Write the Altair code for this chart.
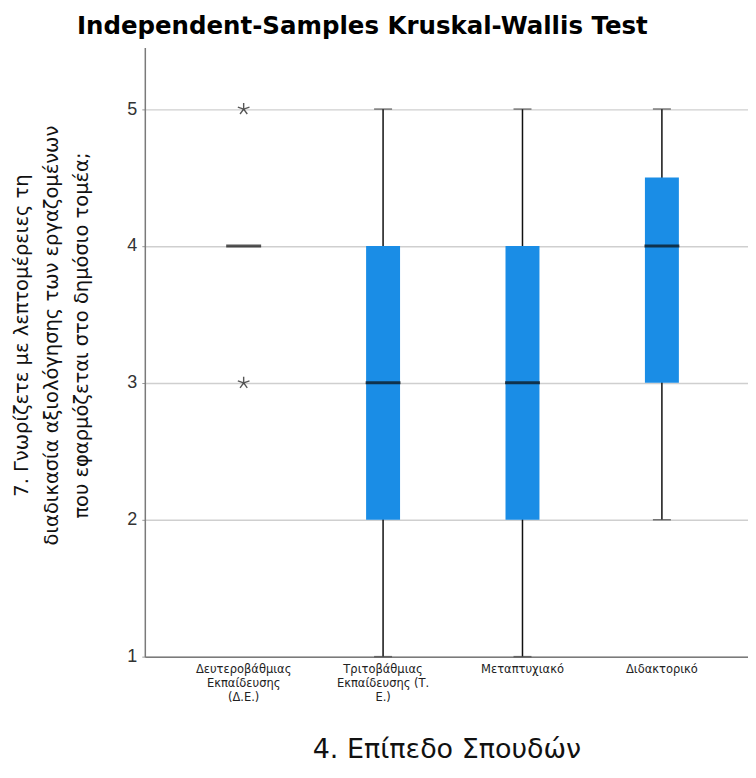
import altair as alt
import pandas as pd

# ---- data ----
categories = [
    "Δευτεροβάθμιας\nΕκπαίδευσης\n(Δ.Ε.)",
    "Τριτοβάθμιας\nΕκπαίδευσης (Τ.\nΕ.)",
    "Μεταπτυχιακό",
    "Διδακτορικό",
]
whisker_low = [None, 1, 1, 2]
q1 = [None, 2, 2, 3]
median = [4, 3, 3, 4]
q3 = [None, 4, 4, 4.5]
whisker_high = [None, 5, 5, 5]
outlier_cat = [categories[0], categories[0]]
outlier_val = [5, 3]

y_ticks = [1, 2, 3, 4, 5]
title_text = "Independent-Samples Kruskal-Wallis Test"
x_title = "4. Επίπεδο Σπουδών"
y_title = [
    "7. Γνωρίζετε με λεπτομέρειες τη",
    "διαδικασία αξιολόγησης των εργαζομένων",
    "που εφαρμόζεται στο δημόσιο τομέα;",
]

df = pd.DataFrame({
    "cat": categories,
    "lo": whisker_low,
    "q1": q1,
    "med": median,
    "q3": q3,
    "hi": whisker_high,
})
out_df = pd.DataFrame({"cat": outlier_cat, "val": outlier_val})

FONT = "Liberation Sans"
WIDE = "DejaVu Sans"
BLUE = "#1A8DE6"

x_scale = alt.Scale(domain=categories, paddingInner=0, paddingOuter=0.1633, align=0.64)
y_scale = alt.Scale(domain=[1, 5.45], nice=False, zero=False)

x_enc = alt.X(
    "cat:N",
    scale=x_scale,
    sort=categories,
    title=x_title,
    axis=alt.Axis(
        labelAngle=0,
        labelExpr="split(datum.label, '\\n')",
        labelFontSize=11.5,
        labelLineHeight=14,
        labelPadding=7,
        labelColor="#222222",
        labelFont=WIDE,
        ticks=False,
        domainColor="#7a7a7a",
        domainWidth=1.5,
        titleFont=WIDE,
        titleFontSize=27,
        titleFontWeight="normal",
        titleColor="#111111",
        titleY=93,
        titleBaseline="middle",
    ),
)

y_axis = alt.Axis(
    values=y_ticks,
    format="d",
    grid=True,
    gridColor="#cfcfcf",
    gridWidth=1.5,
    labelFontSize=18,
    labelColor="#333333",
    labelFont=FONT,
    labelPadding=5,
    tickSize=3,
    tickColor="#9a9a9a",
    domainColor="#7a7a7a",
    domainWidth=1.5,
    title=y_title,
    titleFont=WIDE,
    titleFontSize=19.5,
    titleFontWeight="normal",
    titleLineHeight=30,
    titleColor="#111111",
    titleAngle=-90,
    titleAlign="center",
    titleBaseline="middle",
    titleX=-123,
    titleY=288,
)

base = alt.Chart(df)

whiskers = base.mark_rule(color="#111111", strokeWidth=1.5).encode(
    x=x_enc,
    y=alt.Y("lo:Q", scale=y_scale, axis=y_axis),
    y2="hi:Q",
)
caps_hi = base.mark_tick(color="#444444", size=18, thickness=1.5).encode(
    x=x_enc, y=alt.Y("hi:Q", scale=y_scale)
)
caps_lo = base.mark_tick(color="#444444", size=18, thickness=1.5).encode(
    x=x_enc, y=alt.Y("lo:Q", scale=y_scale)
)
boxes = base.mark_bar(color=BLUE, size=34).encode(
    x=x_enc, y=alt.Y("q1:Q", scale=y_scale), y2="q3:Q"
)
medians = base.mark_tick(color="#0b0b0b", size=35, thickness=3).encode(
    x=x_enc, y=alt.Y("med:Q", scale=y_scale)
)
star = "M0,0L0,-1M0,0L0.951,-0.309M0,0L0.588,0.809M0,0L-0.588,0.809M0,0L-0.951,-0.309"
outliers = alt.Chart(out_df).mark_point(
    shape=star, size=150, filled=False, stroke="#111111", strokeWidth=1.4
).encode(x=x_enc, y=alt.Y("val:Q", scale=y_scale))

chart = (
    alt.layer(whiskers, caps_lo, caps_hi, boxes, medians, outliers)
    .properties(
        width=604,
        height=610,
        autosize=alt.AutoSizeParams(type="none"),
        padding={"left": 137, "top": 39, "right": 0, "bottom": 110},
        title=alt.TitleParams(
            title_text,
            font=WIDE,
            fontSize=24.5,
            fontWeight="bold",
            color="#000000",
            anchor="start",
            frame="group",
            dx=-68,
            offset=8,
        ),
    )
    .configure_view(stroke=None)
)

chart.save("out.html", embed_options={"renderer": "svg", "actions": False})
